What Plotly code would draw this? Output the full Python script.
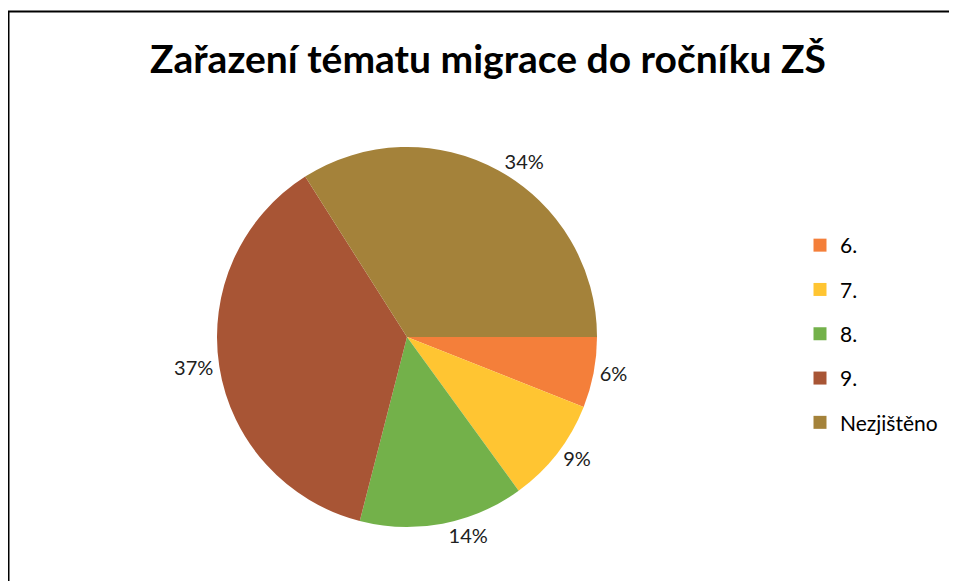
import plotly.graph_objects as go

categories = ["6.", "7.", "8.", "9.", "Nezjištěno"]
values = [6, 9, 14, 37, 34]
colors = ["#F47F3A", "#FFC532", "#73B14A", "#A85535", "#A4823A"]
title_text = "Zařazení tématu migrace do ročníku ZŠ"

W, H = 957, 581
# page body adds an 8px offset; coordinates below are in figure (paper) pixels
cx, cy, r = 399, 329, 190

fig = go.Figure()
fig.add_trace(go.Pie(
    labels=categories,
    values=values,
    sort=False,
    direction="clockwise",
    rotation=90,
    marker=dict(colors=colors, line=dict(width=0)),
    texttemplate="%{percent:.0%}",
    textposition="outside",
    textfont=dict(family="Lato", size=20, color="#202020"),
    showlegend=False,
    domain=dict(x=[(cx - r) / W, (cx + r) / W], y=[(H - cy - r) / H, (H - cy + r) / H]),
    hoverinfo="label+percent",
))

for i, (c, col) in enumerate(zip(categories, colors)):
    fig.add_trace(go.Scatter(
        x=[None], y=[None], mode="markers", name=c,
        marker=dict(symbol="square", size=13, color=col),
        legendgroup=str(i), showlegend=True,
    ))

fig.update_layout(
    width=W, height=H,
    margin=dict(l=0, r=0, t=0, b=0),
    paper_bgcolor="white", plot_bgcolor="white",
    xaxis=dict(visible=False), yaxis=dict(visible=False),
    title=dict(text="<b>" + title_text + "</b>", x=(488 - 8) / W, xanchor="center", y=1 - 51 / H, yanchor="middle",
               font=dict(family="Lato", size=39, color="black")),
    legend=dict(x=792 / W, xanchor="left", y=1 - 217 / H, yanchor="top",
                font=dict(family="Lato", size=21, color="black"),
                tracegroupgap=14, itemwidth=30, bgcolor="rgba(0,0,0,0)"),
    shapes=[dict(type="rect", xref="paper", yref="paper",
                 x0=0.5 / W, x1=1.05, y0=-0.05, y1=1 - 3.5 / H,
                 line=dict(color="black", width=2), fillcolor="rgba(0,0,0,0)")],
)

fig.write_html("out.html")
